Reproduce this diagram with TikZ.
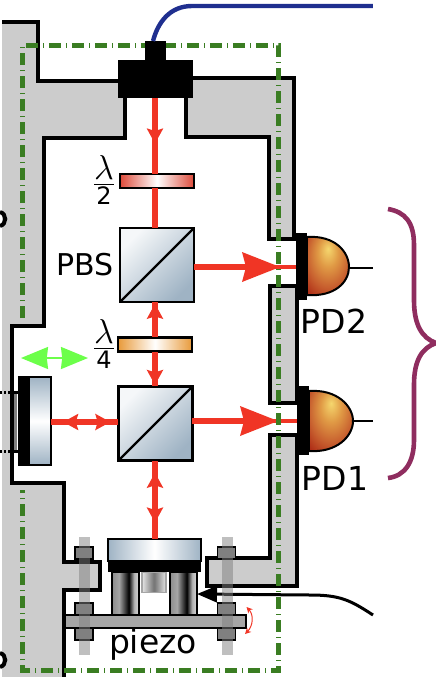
\documentclass[tikz,border=0pt]{standalone}
\usepackage{fontspec}
\setsansfont{DejaVu Sans}
\usetikzlibrary{arrows.meta,decorations.markings}

\definecolor{housing}{HTML}{CCCCCC}
\definecolor{beamred}{HTML}{F03525}
\definecolor{framegreen}{HTML}{3A7D22}
\definecolor{steel}{HTML}{9FB3C4}
\definecolor{bracepurple}{HTML}{8F2D5F}
\definecolor{cableblue}{HTML}{1F2F8F}
\definecolor{shiftgreen}{HTML}{6CFF4A}
\definecolor{hwpred}{HTML}{DD4A3A}
\definecolor{qwporange}{HTML}{E89A3A}
\definecolor{domea}{HTML}{F5D76E}
\definecolor{domeb}{HTML}{E09A45}
\definecolor{domec}{HTML}{C8602F}
\definecolor{domed}{HTML}{A82010}

\pgfdeclareradialshading{domeshade}{\pgfpoint{0bp}{14bp}}{
  color(0bp)=(domea);
  color(12bp)=(domeb);
  color(25bp)=(domec);
  color(39bp)=(domed);
  color(60bp)=(domed)}
\pgfdeclarehorizontalshading{postshade}{100bp}{
  color(0bp)=(gray!90); color(25bp)=(gray!90); color(38bp)=(gray!70);
  color(56bp)=(black); color(66bp)=(gray!60); color(75bp)=(gray!30); color(100bp)=(gray!30)}

\tikzset{
  beamtip/.tip={Stealth[length=7.5pt,width=8pt,inset=1.2pt]},
  bigtip/.tip={Stealth[length=19pt,width=15pt,inset=2pt]},
  wall/.style={fill=housing,draw=black,line width=2pt,miter limit=10},
  beam/.style={draw=beamred,line width=3pt},
  headfwd/.style={postaction={decorate,decoration={markings,mark=at position #1 with {\arrow{beamtip}}}}},
  headbwd/.style={postaction={decorate,decoration={markings,mark=at position #1 with {\arrowreversed{beamtip}}}}},
  cube/.style={draw=black,line width=1.2pt,inner sep=0,outer sep=0,minimum width=37pt,minimum height=37pt,
    top color=white!90!steel,bottom color=steel,shading angle=45},
  plate/.style={draw=black,line width=1.3pt,inner sep=0,outer sep=0,minimum width=37pt,minimum height=7pt},
  block/.style={fill=black,inner sep=0,outer sep=0},
  nut/.style={draw=black,fill=gray,line width=.9pt,inner sep=0,outer sep=0,minimum width=9pt,minimum height=6pt},
  bolt/.style={fill=gray,fill opacity=.5,inner sep=0,outer sep=0,minimum width=5.5pt,minimum height=59pt},
  post/.style={shading=postshade,draw=black,line width=.8pt,inner sep=0,outer sep=0,minimum width=13.5pt,minimum height=21.5pt},
  lbl/.style={font=\sffamily\fontsize{16.5}{20}\selectfont,inner sep=0},
  frac/.style={font=\fontsize{16}{19}\selectfont,inner sep=0},
}
\newcommand{\wavefrac}[1]{$\frac{\mbox{$\lambda$}}{\mbox{\sffamily\fontsize{12}{14}\selectfont #1}}$}

\begin{document}
\begin{tikzpicture}[x=.5pt,y=-.5pt]
\useasboundingbox (0,0) rectangle (436,677);
\clip (0,0) rectangle (436,677);

% housing
\path[wall] (2,22) -- (38,22) -- (38,81) -- (125,81) -- (125,138) -- (44,138) -- (44,326) -- (12,326) -- (12,483)
  -- (64,483) -- (64,562) -- (100,562) -- (100,590) -- (64,590) -- (64,690) -- (2,690);
\path[wall] (186,78) -- (294,78) -- (294,239) -- (269,239) -- (269,137) -- (186,137) -- cycle;
\path[wall] (270,286) rectangle (297,403);
\path[wall] (270,435) -- (297,435) -- (297,586) -- (207,586) -- (207,558) -- (270,558) -- cycle;

% screw heads at the edge
\draw[line width=2pt] (0,212) .. controls (7,214) and (7,224) .. (0,226);
\draw[line width=2pt] (0,653) .. controls (7,655) and (7,665) .. (0,667);

% optics
\node[plate,left color=hwpred,right color=hwpred,middle color=white] (hwp) at (157,181) {};
\node[cube] (pbs) at (157,265) {};
\draw[line width=1.2pt] (pbs.south west) -- (pbs.north east);
\node[plate,left color=qwporange,right color=qwporange,middle color=white] (qwp) at (155,344.5) {};
\node[cube] (bs) at (155.5,423.5) {};
\draw[line width=1.2pt] (bs.south west) -- (bs.north east);
\node[draw=black,line width=1pt,inner sep=0,outer sep=0,minimum width=11pt,minimum height=44pt,
  top color=steel,bottom color=steel,middle color=white] (mirror) at (40,421) {};
\node[block,minimum width=5.5pt,minimum height=45pt] (mirrorback) at (23.5,421) {};
\node[fill=gray,inner sep=0,minimum width=1.5pt,minimum height=29pt] (mirrorbar) at (16,422) {};
\node[block,minimum width=3pt,minimum height=1.5pt] (barup) at (15,392) {};
\node[block,minimum width=3pt,minimum height=1.5pt] (bardown) at (15,451) {};
\draw[line width=1.5pt,dash pattern=on 2pt off 1pt on 1pt off 1pt] (barup.west) -- ++(-13,0);
\draw[line width=1.5pt,dash pattern=on 2pt off 1pt on 1pt off 1pt] (bardown.west) -- ++(-13,0);

% mount
\node[draw=black,line width=1pt,inner sep=0,outer sep=0,minimum width=46.5pt,minimum height=11pt,
  left color=steel,right color=steel,middle color=white] (stagetop) at (154.5,550) {};
\node[block,minimum width=46.5pt,minimum height=5.5pt] (stage) at (154.5,566.5) {};
\node[draw=gray!70,line width=.8pt,inner sep=0,outer sep=0,minimum width=12pt,minimum height=10pt,
  left color=gray!20,right color=gray!20,middle color=gray!90!black] (core) at (154,582.5) {};
\node[post] (postl) at (125.5,593.5) {};
\node[post] (postr) at (183.5,593.5) {};
\node[draw=black,fill=gray!70,line width=1pt,inner sep=0,outer sep=0,minimum width=90.5pt,minimum height=6.5pt] (base) at (155.5,621.5) {};

% cable
\coordinate (cableend) at (373,615);
\draw[line width=1.5pt,-{Stealth[length=10pt,width=8pt,inset=0pt]}] (cableend) .. controls (350,600) and (340,595) .. (310,595) -- (postr.east |- 0,594);

% bolts
\node[nut] (nutla) at (84,553) {};
\node[nut] (nutlb) at (84,609) {};
\node[nut] (nutlc) at (84,634) {};
\node[nut] (nutra) at (226.5,553) {};
\node[nut] (nutrb) at (226.5,609) {};
\node[nut] (nutrc) at (226.5,634) {};
\node[bolt] (boltl) at (85,596) {};
\node[bolt] (boltr) at (227.5,596) {};
\draw[beamred,line width=.5pt,{Stealth[length=3pt,width=3pt]}-{Stealth[length=3pt,width=3pt]}] (246.5,607) .. controls (254,615) and (253,626) .. (245,634);

% detectors
\node[block,minimum width=5.5pt,minimum height=33.5pt] (pdtwo) at (301.5,266.5) {};
\node[block,minimum width=6pt,minimum height=34.5pt] (pdone) at (303,420.5) {};
\path[shading=domeshade,draw=black,line width=1pt] (pdtwo.east |- 0,237) .. controls (335,235) and (349,252) .. (349,267)
  .. controls (349,282) and (335,297) .. (pdtwo.east |- 0,295) -- cycle;
\path[shading=domeshade,draw=black,line width=1pt] (pdone.east |- 0,391) .. controls (337,389) and (353,406) .. (353,421)
  .. controls (353,436) and (337,453) .. (pdone.east |- 0,451) -- cycle;
\coordinate (outtwo) at (373,268);
\coordinate (outone) at (373,421);
\draw[line width=1pt] (349,268) -- (outtwo);
\draw[line width=1pt] (353,421) -- (outone);

% beams
\coordinate (fiberout) at (155,98);
\coordinate (headtwo) at (280,267);
\coordinate (headone) at (278,421);
\path[beam,headfwd=.6] (fiberout) -- (155,174);
\path[beam] (155,188) -- (155,228);
\path[beam,headbwd=.05] (155,302) -- (155,337);
\path[beam,headfwd=.97] (155,352) -- (155,386);
\path[beam,headbwd=.15,headfwd=.79] (155,461) -- (155,539);
\path[beam,headbwd=.18,headfwd=.88] (mirror.east |- 0,422) -- (bs.west |- 0,422);
\path[draw=beamred,line width=2pt] (pbs.east |- headtwo) -- (pdtwo.west |- headtwo);
\path[draw=beamred,line width=2pt] (bs.east |- headone) -- (pdone.west |- headone);
\path[draw=beamred,line width=2.8pt] (pbs.east |- headtwo) -- (250,267);
\path[draw=beamred,line width=2.8pt] (bs.east |- headone) -- (250,421);
\draw[beamred,line width=0pt,-{bigtip}] (240,267) -- (headtwo);
\draw[beamred,line width=0pt,-{bigtip}] (240,421) -- (headone);

% frame
\draw[framegreen,line width=2.5pt,dash pattern=on 6pt off 2.5pt on .7pt off 2.3pt] (23,318) -- (23,45) -- (279,45) -- (279,670) -- (23,670) -- (23,490);

% fiber
\node[block,minimum width=10.5pt,minimum height=10pt] (fiberneck) at (155.5,51) {};
\node[block,minimum width=37.5pt,minimum height=19pt] (fiberbody) at (155.5,79) {};
\coordinate (cablestart) at (373,6);
\draw[cableblue,line width=2.2pt] (fiberneck.north -| 153,0) .. controls (158,22) and (170,6) .. (192,6) -- (cablestart);

% green arrow
\coordinate (shiftl) at (21,358);
\coordinate (shiftr) at (88,358);
\draw[shiftgreen,line width=.9pt,{Stealth[length=13.5pt,width=11pt,inset=.6pt]}-{Stealth[length=13.5pt,width=11pt,inset=.6pt]}] (shiftl) -- (shiftr);

% brace
\coordinate (bracetop) at (388,209);
\coordinate (bracetip) at (436,343);
\coordinate (bracebot) at (388,478);
\draw[bracepurple,line width=2.3pt] (bracetop) .. controls (405,212) and (414,222) .. (414,245) -- (414,300) .. controls (414,325) and (422,338) .. (bracetip)
  .. controls (422,348) and (414,360) .. (414,385) -- (414,440) .. controls (414,462) and (405,476) .. (bracebot);

% labels
\node[lbl,font=\sffamily\fontsize{15}{18}\selectfont] (pbslabel) at (85,265) {PBS};
\node[lbl] (pdtwolabel) at (334,321) {PD2};
\node[lbl] (pdonelabel) at (335,478) {PD1};
\node[lbl,anchor=base] (piezolabel) at (153,653) {piezo};
\node[frac] (hwplabel) at (104,180) {\wavefrac{2}};
\node[frac] (qwplabel) at (104,344) {\wavefrac{4}};
\end{tikzpicture}
\end{document}
